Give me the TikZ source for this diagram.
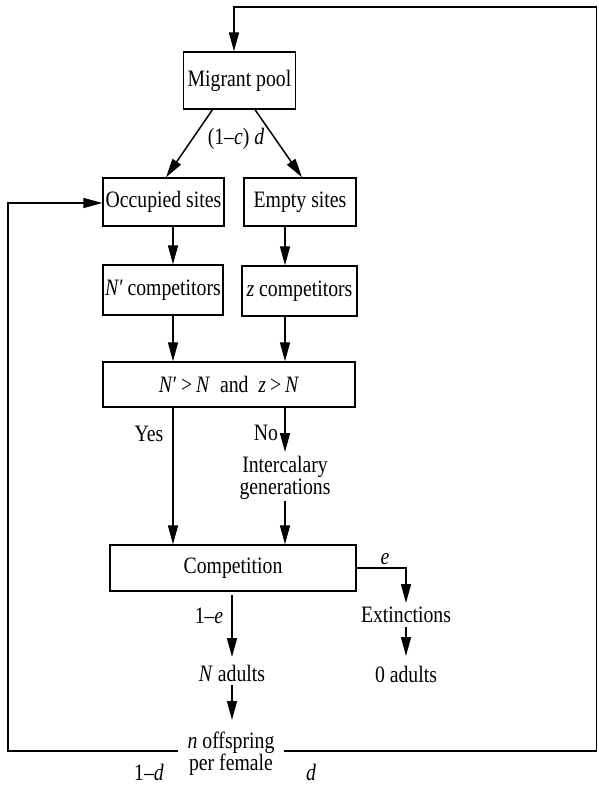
\documentclass[tikz,border=0pt]{standalone}
\usepackage{fontspec}
\setmainfont[FakeStretch=0.84]{Liberation Serif}
\usetikzlibrary{arrows.meta}
\begin{document}
\begin{tikzpicture}[x=1pt,y=-1pt,
  every node/.style={font=\fontsize{23.5}{22}\selectfont, inner sep=0pt},
  box/.style={draw, line width=1.3pt},
  txt/.style={align=center},
  conn/.style={line width=1.5pt},
  arr/.style={conn, -{Triangle[length=19pt,width=10pt]}}]
\useasboundingbox (0,0) rectangle (598,787);
% boxes
\node[box, minimum width=112pt, minimum height=57pt] (mig) at (239.5,80.5) {Migrant pool};
\node[box, minimum width=121pt, minimum height=48pt] (occ) at (163.5,202) {Occupied sites};
\node[box, minimum width=112pt, minimum height=48pt] (emp) at (300,202) {Empty sites};
\node[box, minimum width=120pt, minimum height=50pt] (ncomp) at (163,290) {\textit{N}′\,competitors};
\node[box, minimum width=115pt, minimum height=50pt] (zcomp) at (299.5,291) {\textit{z} competitors};
\node[box, minimum width=252pt, minimum height=45pt] (cond) at (229,384.5) {\textit{N}′\,>\,\textit{N}\ \ and\ \ \textit{z}\,>\,\textit{N}};
\node[box, minimum width=246pt, minimum height=46pt] (comp) at (233,568) {Competition};
% plain text nodes
\node[txt] (inter) at (285,478) {Intercalary\\generations};
\node[txt] (ext) at (406,615) {Extinctions};
\node[txt] (zero) at (406,674) {0 adults};
\node[txt] (nad) at (232,673) {\textit{N} adults};
\node[txt] (off) at (231,754) {\textit{n} offspring\\per female};
% labels
\node (lcd) at (236,139) {(1–\textit{c}) \textit{d}};
\node (lyes) at (149,434) {Yes};
\node (lno) at (266,433) {No};
\node (le) at (385,559) {\textit{e}};
\node (l1e) at (209,616) {1–\textit{e}};
\node (l1d) at (149,772) {1–\textit{d}};
\node (ld) at (311,772) {\textit{d}};
% helper coordinates
\coordinate (cl) at (173,0);
\coordinate (cr) at (285,0);
\coordinate (offL) at (178,751);
\coordinate (offR) at (284,751);
\coordinate (top) at (234,7);
% connectors
\draw[arr] (offR) -- (596.5,751) -- (596.5,7) -- (top) -- (top |- mig.north);
\draw[arr] (offL) -- (8,751) -- (8,203) -- (occ.west |- 0,203);
\draw[arr] ([xshift=-27pt]mig.south) -- ([xshift=2.5pt]occ.north);
\draw[arr] ([xshift=15.5pt]mig.south) -- ([xshift=2pt]emp.north);
\draw[arr] (occ.south -| cl) -- (ncomp.north -| cl);
\draw[arr] (emp.south -| cr) -- (zcomp.north -| cr);
\draw[arr] (ncomp.south -| cl) -- (cond.north -| cl);
\draw[arr] (zcomp.south -| cr) -- (cond.north -| cr);
\draw[arr] (cond.south -| cl) -- (comp.north -| cl);
\draw[arr] (cond.south -| cr) -- (285,452);
\draw[arr] (285,501) -- (comp.north -| cr);
\draw[arr] (comp.east) -| (406,603);
\draw[arr] (406,627) -- (406,656);
\draw[arr] (232,595) -- (232,657);
\draw[arr] (232,685) -- (232,720);
\end{tikzpicture}
\end{document}
